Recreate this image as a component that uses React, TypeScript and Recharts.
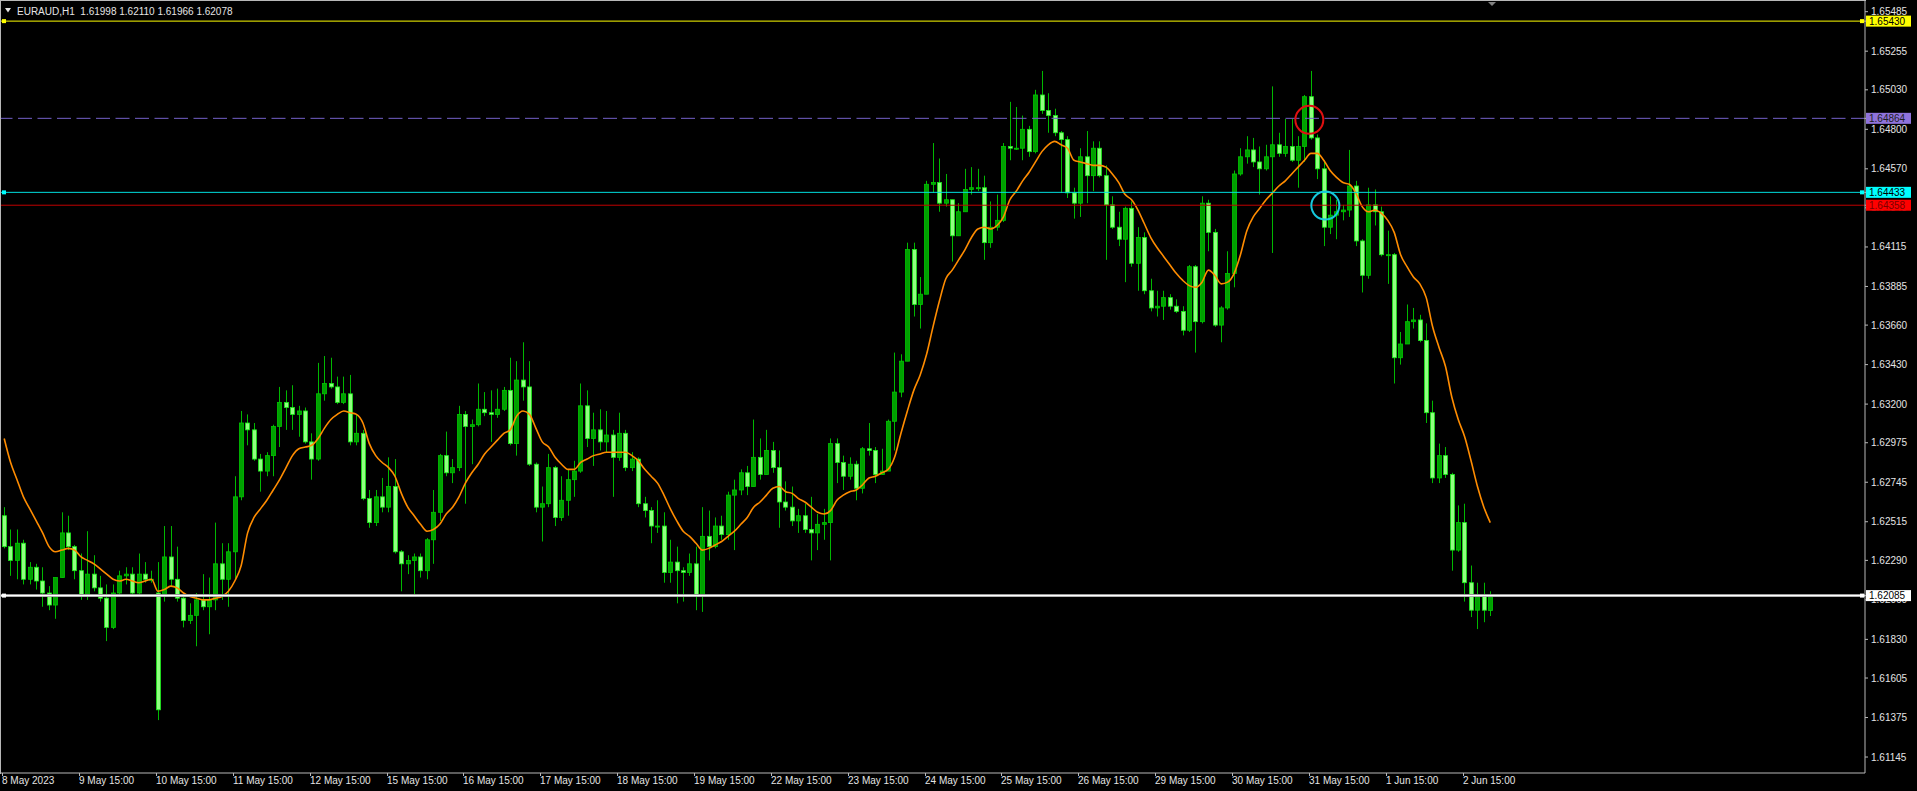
import React from 'react';
import {
  ComposedChart,
  Bar,
  Line,
  XAxis,
  YAxis,
  ReferenceLine,
  ReferenceDot,
} from 'recharts';

// EURAUD H1, read off the screenshot and grouped into 2-hour candles
// (8 May 2023 15:00 .. 2 Jun 2023 23:00)
const opens = [
  1.6255, 1.6237, 1.6229, 1.6239, 1.6218, 1.6225, 1.6217, 1.621, 1.6203, 1.6219,
  1.6245, 1.6237, 1.6223, 1.6208, 1.6221, 1.6213, 1.6207, 1.619, 1.621, 1.622,
  1.6221, 1.621, 1.6221, 1.6218, 1.621, 1.6208, 1.6231, 1.6218, 1.6207, 1.6194,
  1.6197, 1.6206, 1.6202, 1.6206, 1.6227, 1.6218, 1.6234, 1.6266, 1.6309, 1.6305,
  1.6288, 1.6281, 1.629, 1.6307, 1.6321, 1.6318, 1.6314, 1.6316, 1.6298, 1.6288,
  1.6326, 1.6332, 1.633, 1.6321, 1.6326, 1.6298, 1.6303, 1.6265, 1.6251, 1.6266,
  1.626, 1.6272, 1.6234, 1.6227, 1.6229, 1.6231, 1.6223, 1.6241, 1.6257, 1.629,
  1.628, 1.6283, 1.6314, 1.6307, 1.6308, 1.6317, 1.6315, 1.6314, 1.6317, 1.6328,
  1.6297, 1.6334, 1.633, 1.6285, 1.626, 1.6262, 1.6283, 1.6254, 1.6264, 1.6276,
  1.6281, 1.6319, 1.63, 1.6305, 1.6298, 1.6302, 1.6289, 1.6303, 1.6283, 1.6288,
  1.6262, 1.6258, 1.6249, 1.6249, 1.6222, 1.6228, 1.6223, 1.6222, 1.6227, 1.6208,
  1.6243, 1.6237, 1.6249, 1.6244, 1.6267, 1.627, 1.628, 1.6272, 1.6289, 1.6279,
  1.6293, 1.6283, 1.6263, 1.626, 1.6252, 1.6255, 1.6247, 1.6245, 1.625, 1.6251,
  1.6297, 1.6286, 1.6278, 1.6285, 1.6271, 1.6294, 1.6293, 1.6279, 1.6281, 1.631,
  1.6327, 1.6345, 1.641, 1.6378, 1.6384, 1.6448, 1.6449, 1.6437, 1.6439, 1.6418,
  1.6432, 1.6445, 1.6446, 1.6446, 1.6414, 1.6423, 1.6427, 1.647, 1.6469, 1.6469,
  1.648, 1.6467, 1.65, 1.6491, 1.6488, 1.6478, 1.6474, 1.6443, 1.6437, 1.6464,
  1.6453, 1.6469, 1.6453, 1.6436, 1.6423, 1.6416, 1.6434, 1.6402, 1.6417, 1.6386,
  1.6376, 1.6377, 1.6382, 1.6377, 1.6374, 1.6363, 1.64, 1.6368, 1.6437, 1.642,
  1.6366, 1.6376, 1.6396, 1.6454, 1.6464, 1.6468, 1.6461, 1.6457, 1.6464, 1.6471,
  1.6466, 1.647, 1.6462, 1.647, 1.6499, 1.6475, 1.6457, 1.6423, 1.643, 1.6432,
  1.6433, 1.6447, 1.6415, 1.6395, 1.6436, 1.6432, 1.6407, 1.6407, 1.6347, 1.6355,
  1.6368, 1.6369, 1.6357, 1.6315, 1.6277, 1.629, 1.6279, 1.6235, 1.6251, 1.6216,
  1.62, 1.6209, 1.61998,
];

const highs = [
  1.626, 1.6247, 1.6247, 1.6241, 1.6228, 1.6227, 1.6225, 1.6214, 1.6219, 1.6257,
  1.6255, 1.6238, 1.6233, 1.6246, 1.6232, 1.622, 1.6215, 1.6215, 1.6223, 1.6225,
  1.6225, 1.6233, 1.6228, 1.6223, 1.6228, 1.6249, 1.6249, 1.6237, 1.6208, 1.6204,
  1.621, 1.6221, 1.6219, 1.6251, 1.6239, 1.6239, 1.6278, 1.6316, 1.6314, 1.6309,
  1.6291, 1.6292, 1.6308, 1.633, 1.6328, 1.6331, 1.6319, 1.6318, 1.6303, 1.6344,
  1.6348, 1.6347, 1.6336, 1.6336, 1.6337, 1.6314, 1.6305, 1.627, 1.627, 1.6277,
  1.6289, 1.6288, 1.6235, 1.6232, 1.6233, 1.6233, 1.6242, 1.627, 1.6291, 1.6304,
  1.6288, 1.6319, 1.6316, 1.6311, 1.6332, 1.6327, 1.6328, 1.6329, 1.633, 1.6347,
  1.6345, 1.6356, 1.6345, 1.6286, 1.6272, 1.6291, 1.6284, 1.6278, 1.6282, 1.6287,
  1.6332, 1.6328, 1.6315, 1.6317, 1.6316, 1.6305, 1.6315, 1.6305, 1.6292, 1.6289,
  1.6266, 1.626, 1.6264, 1.6257, 1.6241, 1.6237, 1.6225, 1.6233, 1.6237, 1.626,
  1.6258, 1.6254, 1.6255, 1.6269, 1.6276, 1.6282, 1.6284, 1.6311, 1.63, 1.6305,
  1.6298, 1.6293, 1.6275, 1.6272, 1.6259, 1.6262, 1.6266, 1.6256, 1.6259, 1.63,
  1.63, 1.629, 1.6289, 1.6287, 1.6295, 1.6309, 1.6295, 1.6294, 1.6311, 1.635,
  1.6349, 1.6414, 1.6414, 1.6394, 1.645, 1.6472, 1.6463, 1.6454, 1.6439, 1.6437,
  1.6457, 1.6458, 1.6457, 1.6453, 1.6438, 1.6442, 1.6472, 1.6496, 1.6493, 1.6488,
  1.6482, 1.6503, 1.6514, 1.6501, 1.6492, 1.6479, 1.6476, 1.6446, 1.6469, 1.6479,
  1.6473, 1.6473, 1.6459, 1.6441, 1.6432, 1.6435, 1.6438, 1.6423, 1.642, 1.6393,
  1.6386, 1.6386, 1.6384, 1.6381, 1.6377, 1.6401, 1.6401, 1.6441, 1.6439, 1.6422,
  1.6377, 1.6409, 1.6456, 1.6469, 1.6476, 1.6475, 1.647, 1.6471, 1.6505, 1.6478,
  1.6486, 1.6486, 1.6476, 1.65, 1.6514, 1.6477, 1.6462, 1.6441, 1.6439, 1.6436,
  1.6468, 1.645, 1.6416, 1.6446, 1.6445, 1.6435, 1.6421, 1.6408, 1.6362, 1.6378,
  1.6376, 1.6372, 1.6367, 1.6322, 1.6297, 1.6295, 1.628, 1.6261, 1.6262, 1.6226,
  1.6216, 1.6216, 1.6211,
];

const lows = [
  1.6236, 1.622, 1.6218, 1.6215, 1.6215, 1.6212, 1.6202, 1.62, 1.6195, 1.6219,
  1.6235, 1.6218, 1.6206, 1.6206, 1.6211, 1.6205, 1.6182, 1.6189, 1.6208, 1.6215,
  1.6208, 1.6209, 1.6216, 1.6216, 1.6136, 1.6205, 1.6214, 1.6205, 1.619, 1.6192,
  1.6179, 1.62, 1.6186, 1.62, 1.6206, 1.6202, 1.6218, 1.6264, 1.6296, 1.6287,
  1.6269, 1.6278, 1.6278, 1.6295, 1.6305, 1.6305, 1.6301, 1.6297, 1.6276, 1.6287,
  1.6322, 1.6329, 1.632, 1.632, 1.6296, 1.6296, 1.6264, 1.6248, 1.6249, 1.6257,
  1.6257, 1.6233, 1.6211, 1.6221, 1.6209, 1.6219, 1.6218, 1.6227, 1.6252, 1.6278,
  1.6274, 1.6281, 1.6262, 1.6285, 1.6307, 1.6313, 1.6298, 1.6312, 1.6316, 1.6296,
  1.629, 1.6322, 1.6284, 1.6257, 1.624, 1.626, 1.6249, 1.6252, 1.6255, 1.6266,
  1.628, 1.6295, 1.6284, 1.6293, 1.6292, 1.6266, 1.6287, 1.6281, 1.6281, 1.626,
  1.6254, 1.6239, 1.6245, 1.6216, 1.6216, 1.6204, 1.6205, 1.622, 1.62, 1.6199,
  1.6229, 1.6236, 1.6241, 1.6241, 1.6235, 1.6267, 1.6267, 1.6272, 1.6276, 1.6279,
  1.628, 1.6248, 1.6258, 1.6249, 1.6245, 1.6245, 1.6229, 1.6235, 1.6241, 1.6229,
  1.6274, 1.627, 1.6276, 1.6264, 1.6268, 1.629, 1.6274, 1.6279, 1.6281, 1.6293,
  1.6324, 1.6345, 1.6371, 1.6364, 1.6384, 1.6443, 1.6432, 1.6435, 1.6403, 1.6418,
  1.6432, 1.6442, 1.6444, 1.6404, 1.6411, 1.6421, 1.6426, 1.6462, 1.6468, 1.6462,
  1.6464, 1.6466, 1.6489, 1.6478, 1.6476, 1.6443, 1.644, 1.6428, 1.6429, 1.6437,
  1.6444, 1.6452, 1.6404, 1.6422, 1.6412, 1.6391, 1.64, 1.6386, 1.6384, 1.6374,
  1.6371, 1.6369, 1.6375, 1.6373, 1.636, 1.6362, 1.635, 1.6367, 1.6409, 1.6365,
  1.6356, 1.6375, 1.6388, 1.6453, 1.646, 1.6458, 1.6442, 1.6456, 1.6408, 1.6464,
  1.6464, 1.6461, 1.6446, 1.6461, 1.6474, 1.6451, 1.6412, 1.6419, 1.6416, 1.6427,
  1.6429, 1.6412, 1.6385, 1.6393, 1.6424, 1.6406, 1.639, 1.6332, 1.6343, 1.6355,
  1.6364, 1.6356, 1.6309, 1.6274, 1.6274, 1.6277, 1.6223, 1.6234, 1.6205, 1.6196,
  1.6189, 1.6193, 1.61966,
];

const closes = [
  1.6237, 1.6229, 1.6239, 1.6218, 1.6225, 1.6217, 1.621, 1.6203, 1.6219, 1.6245,
  1.6237, 1.6223, 1.6208, 1.6221, 1.6213, 1.6207, 1.619, 1.621, 1.622, 1.6221,
  1.621, 1.6221, 1.6218, 1.6218, 1.6142, 1.6231, 1.6218, 1.6207, 1.6194, 1.6197,
  1.6206, 1.6202, 1.6206, 1.6227, 1.6218, 1.6234, 1.6266, 1.6309, 1.6305, 1.6288,
  1.6281, 1.629, 1.6307, 1.6321, 1.6318, 1.6314, 1.6316, 1.6298, 1.6288, 1.6326,
  1.6332, 1.633, 1.6321, 1.6326, 1.6298, 1.6303, 1.6265, 1.6251, 1.6266, 1.626,
  1.6272, 1.6234, 1.6227, 1.6229, 1.6231, 1.6223, 1.6241, 1.6257, 1.629, 1.628,
  1.6283, 1.6314, 1.6307, 1.6308, 1.6317, 1.6315, 1.6314, 1.6317, 1.6328, 1.6297,
  1.6334, 1.633, 1.6285, 1.626, 1.6262, 1.6283, 1.6254, 1.6264, 1.6276, 1.6281,
  1.6319, 1.63, 1.6305, 1.6298, 1.6302, 1.6289, 1.6303, 1.6283, 1.6288, 1.6262,
  1.6258, 1.6249, 1.6249, 1.6222, 1.6228, 1.6223, 1.6222, 1.6227, 1.6208, 1.6243,
  1.6237, 1.6249, 1.6244, 1.6267, 1.627, 1.628, 1.6272, 1.6289, 1.6279, 1.6293,
  1.6283, 1.6263, 1.626, 1.6252, 1.6255, 1.6247, 1.6245, 1.625, 1.6251, 1.6297,
  1.6286, 1.6278, 1.6285, 1.6271, 1.6294, 1.6293, 1.6279, 1.6281, 1.631, 1.6327,
  1.6345, 1.641, 1.6378, 1.6384, 1.6448, 1.6449, 1.6437, 1.6439, 1.6418, 1.6432,
  1.6445, 1.6446, 1.6446, 1.6414, 1.6423, 1.6427, 1.647, 1.6469, 1.6469, 1.648,
  1.6467, 1.65, 1.6491, 1.6488, 1.6478, 1.6474, 1.6443, 1.6437, 1.6464, 1.6453,
  1.6469, 1.6453, 1.6436, 1.6423, 1.6416, 1.6434, 1.6402, 1.6417, 1.6386, 1.6376,
  1.6377, 1.6382, 1.6377, 1.6374, 1.6363, 1.64, 1.6368, 1.6437, 1.642, 1.6366,
  1.6376, 1.6396, 1.6454, 1.6464, 1.6468, 1.6461, 1.6457, 1.6464, 1.6471, 1.6466,
  1.647, 1.6462, 1.647, 1.6499, 1.6475, 1.6457, 1.6423, 1.643, 1.6432, 1.6433,
  1.6447, 1.6415, 1.6395, 1.6436, 1.6432, 1.6407, 1.6407, 1.6347, 1.6355, 1.6368,
  1.6369, 1.6357, 1.6315, 1.6277, 1.629, 1.6279, 1.6235, 1.6251, 1.6216, 1.62,
  1.6209, 1.62, 1.62078,
];

// orange moving average, read at every candle
const maValues = [
  1.63, 1.6286, 1.6276, 1.6266, 1.6259, 1.6252, 1.6245, 1.6237, 1.6234, 1.6235,
  1.6236, 1.6235, 1.6231, 1.6229, 1.6227, 1.6224, 1.6221, 1.6218, 1.6217, 1.6218,
  1.6217, 1.6216, 1.6217, 1.6218, 1.6211, 1.6212, 1.6214, 1.6213, 1.621, 1.6208,
  1.6207, 1.6206, 1.6206, 1.6207, 1.6208, 1.6211, 1.6217, 1.6226, 1.6245, 1.6254,
  1.6259, 1.6264, 1.627, 1.6276, 1.6283, 1.629, 1.6294, 1.6295, 1.6296, 1.63,
  1.6306, 1.6311, 1.6314, 1.6316, 1.6315, 1.6314, 1.6309, 1.6297, 1.629, 1.6286,
  1.6283, 1.6278, 1.6268, 1.626, 1.6255, 1.625, 1.6246, 1.6247, 1.625, 1.6256,
  1.626, 1.6266, 1.6274, 1.628, 1.6285, 1.6291, 1.6295, 1.6299, 1.6303, 1.6305,
  1.6313, 1.6316, 1.6314, 1.6306, 1.6298, 1.6295, 1.6289, 1.6285, 1.6282, 1.6282,
  1.6286, 1.6288, 1.629, 1.6291, 1.6292, 1.6292, 1.6292, 1.6292, 1.629, 1.6287,
  1.6282, 1.6278, 1.6274, 1.6267, 1.6259, 1.6252, 1.6246, 1.6243, 1.6239, 1.6235,
  1.6236, 1.6238, 1.624, 1.6243, 1.6246, 1.625, 1.6254, 1.626, 1.6263, 1.6267,
  1.6271, 1.6272, 1.6269, 1.6268, 1.6265, 1.6263, 1.626, 1.6257, 1.6256, 1.6258,
  1.6264, 1.6267, 1.6269, 1.627, 1.6273, 1.6277, 1.6278, 1.628, 1.6282, 1.6289,
  1.6303, 1.6316, 1.6328, 1.6337, 1.6349, 1.6365, 1.638, 1.6393, 1.6398, 1.6404,
  1.641, 1.6417, 1.6422, 1.6423, 1.6422, 1.6424, 1.6429, 1.6439, 1.6444, 1.645,
  1.6455, 1.6461, 1.6467, 1.6471, 1.6473, 1.6471, 1.6469, 1.6462, 1.6461, 1.646,
  1.6459, 1.6459, 1.6458, 1.6454, 1.6449, 1.6442, 1.6439, 1.6433, 1.6425, 1.6417,
  1.6411, 1.6406, 1.6401, 1.6396, 1.6392, 1.6389, 1.6388, 1.6391, 1.6398, 1.6395,
  1.639, 1.6391, 1.6396, 1.6407, 1.6421, 1.6429, 1.6434, 1.6439, 1.6443, 1.6447,
  1.645, 1.6454, 1.6458, 1.6462, 1.6466, 1.6466, 1.6462, 1.6456, 1.6452, 1.6449,
  1.6448, 1.6443, 1.6435, 1.6432, 1.6433, 1.6431, 1.6427, 1.642, 1.6407, 1.64,
  1.6394, 1.639, 1.6382, 1.6365, 1.6353, 1.6342, 1.6324, 1.6311, 1.6301, 1.6287,
  1.6272, 1.626, 1.6251,
];

const dayLabels = [
  '8 May 2023', '9 May 15:00', '10 May 15:00', '11 May 15:00', '12 May 15:00',
  '15 May 15:00', '16 May 15:00', '17 May 15:00', '18 May 15:00', '19 May 15:00',
  '22 May 15:00', '23 May 15:00', '24 May 15:00', '25 May 15:00', '26 May 15:00',
  '29 May 15:00', '30 May 15:00', '31 May 15:00', '1 Jun 15:00', '2 Jun 15:00',
];

const priceTicks = [
  1.65485, 1.65255, 1.6503, 1.648, 1.6457, 1.64343, 1.64115, 1.63885, 1.6366,
  1.6343, 1.632, 1.62975, 1.62745, 1.62515, 1.6229, 1.6206, 1.6183, 1.61605,
  1.61375, 1.61145,
];

// horizontal objects: yellow, purple dashed, cyan, red, white
const levelPrices = [1.6543, 1.64864, 1.64433, 1.64358, 1.62085];
// ellipse markers (slot, price)
const circleSlots = [204, 206];
const circlePrices = [1.64855, 1.64356];

const levelStyles = [
  { line: '#ffff00', bg: '#ffff00', fg: '#000000', anchors: true },
  { line: '#7461c8', bg: '#8f73dc', fg: '#1e1e1e', anchors: false },
  { line: '#00dede', bg: '#00ffff', fg: '#000000', anchors: true },
  { line: '#c00000', bg: '#ff0000', fg: '#7a0000', anchors: false },
  { line: '#ffffff', bg: '#ffffff', fg: '#000000', anchors: true },
];

const Y_DOMAIN = [1.61052, 1.65553];
const PLOT_H = 773;
const TOTAL_SLOTS = 291; // chart shift leaves empty room on the right
const SLOTS_PER_DAY = 12;
const FONT = '"Liberation Sans", Arial, sans-serif';
const TEXT = '#e4e4e4';
const FRAME = '#b8b8b8';
const PX_PER_PRICE = PLOT_H / (Y_DOMAIN[1] - Y_DOMAIN[0]);

const chartData = Array.from({ length: TOTAL_SLOTS }, (_, i) =>
  i < closes.length
    ? {
        slot: i,
        open: opens[i],
        high: highs[i],
        low: lows[i],
        close: closes[i],
        range: [lows[i], highs[i]],
        ma: maValues[i],
      }
    : { slot: i }
);

const tickSlots = dayLabels.map((_, d) => d * SLOTS_PER_DAY);
const axisTicks = [...priceTicks, ...levelPrices];

const Candle = (props: any) => {
  const { x, y, width, height, payload } = props;
  if (!payload || payload.open == null || !isFinite(y) || !isFinite(height)) return null;
  const { open, close, high, low } = payload;
  const top = Math.min(y, y + height);
  const h = Math.abs(height);
  const k = h / Math.max(high - low, 1e-9);
  const cx = Math.round(x + width / 2) + 0.5;
  const yO = top + (high - open) * k;
  const yC = top + (high - close) * k;
  const up = close >= open;
  const bTop = Math.min(yO, yC);
  const bH = Math.max(Math.abs(yC - yO), 1);
  return (
    <g>
      <line x1={cx} x2={cx} y1={top} y2={top + h} stroke="#00b800" strokeWidth={1} />
      <rect
        x={cx - 2}
        y={bTop}
        width={4}
        height={bH}
        fill={up ? '#00a000' : '#90ff80'}
        stroke={up ? '#00c800' : '#18ec18'}
        strokeWidth={0.8}
      />
    </g>
  );
};

const TimeTick = (props: any) => {
  const { x, y, payload } = props;
  const d = Math.round(payload.value / SLOTS_PER_DAY);
  const tx = Math.round(x) - 2;
  return (
    <g>
      <line x1={tx + 0.5} x2={tx + 0.5} y1={y} y2={y + 3} stroke={FRAME} />
      <text x={tx} y={y + 11} fill={TEXT} fontSize={10} fontFamily={FONT} textAnchor="start">
        {dayLabels[d]}
      </text>
    </g>
  );
};

const PriceTick = (props: any) => {
  const { x, y, payload, index } = props;
  const li = index - priceTicks.length;
  if (li >= 0) {
    const s = levelStyles[li];
    return (
      <g>
        <rect x={x - 5} y={y - 5.5} width={45} height={11} fill={s.bg} />
        <text x={x - 2} y={y} dy="0.36em" fill={s.fg} fontSize={10} fontFamily={FONT}>
          {levelPrices[li].toFixed(5)}
        </text>
      </g>
    );
  }
  // price labels that sit under a level tag are only visible outside the tag
  const v = Number(payload.value);
  const hidden = levelPrices
    .map((lp) => y + (v - lp) * PX_PER_PRICE)
    .find((ly) => Math.abs(ly - y) < 11);
  const clipId = `ptclip${index}`;
  return (
    <g>
      {hidden !== undefined && (
        <defs>
          <clipPath id={clipId}>
            {y > hidden ? (
              <rect x={x - 6} y={hidden + 5.5} width={60} height={20} />
            ) : (
              <rect x={x - 6} y={hidden - 25.5} width={60} height={20} />
            )}
          </clipPath>
        </defs>
      )}
      <text
        x={x}
        y={y}
        dy="0.35em"
        fill={TEXT}
        fontSize={10}
        fontFamily={FONT}
        textAnchor="start"
        clipPath={hidden !== undefined ? `url(#${clipId})` : undefined}
      >
        {v.toFixed(5)}
      </text>
    </g>
  );
};

const Anchors = (props: any) => {
  const { viewBox, color } = props;
  if (!viewBox) return null;
  const { x, y, width } = viewBox;
  return (
    <g>
      <rect x={x + 1} y={y - 2} width={4} height={4} fill={color} />
      <rect x={x + width - 5} y={y - 2} width={4} height={4} fill={color} />
    </g>
  );
};

export default function App() {
  return (
    <div
      style={{
        position: 'fixed',
        left: 0,
        top: 0,
        width: 1917,
        height: 791,
        background: '#000',
        overflow: 'hidden',
      }}
    >
      <ComposedChart
        width={1917}
        height={791}
        data={chartData}
        margin={{ top: 0, right: 0, left: 1, bottom: 0 }}
        barCategoryGap={0}
      >
        <XAxis
          dataKey="slot"
          type="category"
          ticks={tickSlots}
          interval={0}
          height={791 - PLOT_H}
          tickLine={false}
          tickSize={0}
          tickMargin={0}
          tick={<TimeTick />}
          axisLine={{ stroke: FRAME }}
        />
        <YAxis
          orientation="right"
          type="number"
          domain={Y_DOMAIN}
          allowDataOverflow
          ticks={axisTicks}
          interval={0}
          width={52}
          tickSize={3}
          tickMargin={3}
          tickLine={{ stroke: FRAME }}
          tick={<PriceTick />}
          axisLine={{ stroke: FRAME }}
        />
        <Bar dataKey="range" barSize={4} shape={<Candle />} isAnimationActive={false} />
        <Line
          type="monotone"
          dataKey="ma"
          stroke="#ff8c00"
          strokeWidth={1.6}
          dot={false}
          activeDot={false}
          isAnimationActive={false}
        />
        <ReferenceLine y={levelPrices[4]} stroke="#9a9a9a" strokeWidth={3} />
        {levelPrices.map((p, i) => {
          const s = levelStyles[i];
          return (
            <ReferenceLine
              key={`l${i}`}
              y={p}
              stroke={s.line}
              strokeWidth={i === 4 ? 1.2 : 1}
              strokeDasharray={i === 1 ? '14 5.5' : undefined}
              label={s.anchors ? <Anchors color={s.bg} /> : undefined}
            />
          );
        })}
        <ReferenceDot
          x={circleSlots[0]}
          y={circlePrices[0]}
          r={14}
          shape={(p: any) => (
            <circle cx={p.cx - 1.6} cy={p.cy} r={14} fill="none" stroke="#e01010" strokeWidth={2} />
          )}
        />
        <ReferenceDot
          x={circleSlots[1]}
          y={circlePrices[1]}
          r={14}
          shape={(p: any) => (
            <circle cx={p.cx + 1.6} cy={p.cy} r={14} fill="none" stroke="#16c8dc" strokeWidth={2} />
          )}
        />
      </ComposedChart>

      {/* chart frame top / left */}
      <div
        style={{
          position: 'absolute',
          left: 0,
          top: 0,
          width: 1865,
          height: PLOT_H,
          borderTop: `1px solid ${FRAME}`,
          borderLeft: `1px solid ${FRAME}`,
          pointerEvents: 'none',
        }}
      />
      <svg
        width={1917}
        height={20}
        style={{ position: 'absolute', left: 0, top: 0, pointerEvents: 'none' }}
      >
        <polygon points="5,8 11,8 8,12.5" fill={TEXT} />
        <polygon points="1488,2 1496,2 1492,6" fill="#808080" />
        <text x={17} y={15} fill={TEXT} fontSize={10} fontFamily={FONT} xmlSpace="preserve">
          {'EURAUD,H1  1.61998 1.62110 1.61966 1.62078'}
        </text>
      </svg>
    </div>
  );
}
